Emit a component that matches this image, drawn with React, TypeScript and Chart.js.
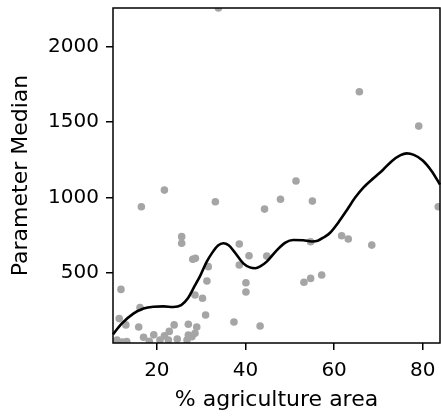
import React, { useEffect, useRef } from "react";
import { Chart, registerables } from "chart.js";

Chart.register(...registerables);

const pointX = [21.7, 16.5, 33.2, 44.3, 47.9, 25.6, 25.6, 28.1, 28.7, 31.6, 38.6, 40.8, 38.6, 44.8, 40.1, 40.1, 31.3, 30.3, 28.6, 11.9, 16.2, 11.5, 31.0, 37.4, 43.3, 13.0, 15.9, 23.9, 27.1, 29.0, 19.3, 17.0, 21.7, 22.8, 22.6, 27.1, 27.9, 28.6, 26.8, 11.0, 13.2, 20.7, 51.4, 55.1, 54.7, 61.7, 63.2, 68.5, 53.2, 54.7, 57.2, 83.5, 65.7, 79.1, 33.9, 12.2, 24.6, 18.3];
const pointY = [1048, 938, 971, 922, 987, 739, 695, 589, 595, 540, 690, 612, 551, 610, 433, 372, 445, 330, 352, 389, 268, 195, 219, 172, 146, 153, 139, 153, 157, 139, 87, 71, 80, 110, 53, 86, 75, 97, 53, 53, 42, 53, 1108, 975, 705, 745, 723, 683, 436, 462, 484, 938, 1701, 1473, 2257, 40, 60, 45];

const curveX = [10.1, 12, 14.7, 17, 19.2, 21.5, 23.7, 25.5, 27, 28.5, 29.8, 31.2, 32.4, 33.8, 35, 36.2, 37.5, 39.5, 41, 42.2, 43.5, 44.8, 47.1, 49, 50.8, 53, 55, 56.3, 57.7, 59.1, 61, 62.9, 64.8, 66.6, 69, 71, 73, 75, 76.4, 78, 80, 82, 83.9];
const curveY = [90, 160, 228, 262, 274, 276, 272, 285, 330, 410, 480, 570, 628, 680, 695, 682, 638, 562, 535, 529, 545, 573, 650, 700, 717, 715, 707, 712, 735, 765, 835, 916, 1000, 1065, 1130, 1182, 1240, 1280, 1292, 1282, 1245, 1175, 1085];

const xTicks = [20, 40, 60, 80];
const yTicks = [500, 1000, 1500, 2000];

const frame = {
  id: "frame",
  afterDraw(chart: any) {
    const { ctx, chartArea: a } = chart;
    ctx.save();
    ctx.strokeStyle = "#000";
    ctx.lineWidth = 1.5;
    ctx.strokeRect(a.left, a.top, a.right - a.left, a.bottom - a.top);
    ctx.restore();
  },
};

const W = 444;
const H = 419;

export default function App() {
  const ref = useRef<HTMLCanvasElement>(null);
  useEffect(() => {
    const tickFont = { family: "DejaVu Sans", size: 20 };
    const titleFont = { family: "DejaVu Sans", size: 22 };
    const chart = new Chart(ref.current!, {
      type: "scatter",
      data: {
        datasets: [
          {
            type: "line",
            data: curveX.map((x, i) => ({ x, y: curveY[i] })),
            borderColor: "#000",
            borderWidth: 2.6,
            pointRadius: 0,
            tension: 0.4,
            cubicInterpolationMode: "monotone",
            clip: 1,
            order: 0,
          } as any,
          {
            data: pointX.map((x, i) => ({ x, y: pointY[i] })),
            backgroundColor: "#a5a5a5",
            borderWidth: 0,
            pointRadius: 3.8,
            clip: 0,
            order: 1,
          } as any,
        ],
      },
      options: {
        animation: false,
        responsive: false,
        layout: { padding: { top: 8, right: 1, left: 0, bottom: 0 } },
        plugins: { legend: { display: false }, tooltip: { enabled: false } },
        scales: {
          x: {
            type: "linear",
            min: 10.1,
            max: 83.9,
            afterBuildTicks: (s: any) => { s.ticks = xTicks.map((v) => ({ value: v })); },
            afterFit: (s: any) => { s.height = 76; s.paddingLeft = 0; s.paddingRight = 0; },
            grid: { drawOnChartArea: false, drawTicks: true, tickLength: 7, color: "#000", lineWidth: 1.5 },
            border: { display: false },
            ticks: { color: "#000", font: tickFont, padding: 9, maxRotation: 0, callback: (v: any) => String(v) },
            title: { display: true, text: "% agriculture area", color: "#000", font: titleFont, padding: { top: 0, bottom: 6 } },
          },
          y: {
            type: "linear",
            min: 33,
            max: 2257,
            afterBuildTicks: (s: any) => { s.ticks = yTicks.map((v) => ({ value: v })); },
            afterFit: (s: any) => { s.width = 113; s.paddingTop = 0; s.paddingBottom = 0; },
            grid: { drawOnChartArea: false, drawTicks: true, tickLength: 7, color: "#000", lineWidth: 1.5 },
            border: { display: false },
            ticks: { color: "#000", font: tickFont, padding: 7, callback: (v: any) => String(v) },
            title: { display: true, text: "Parameter Median", color: "#000", font: titleFont, padding: { top: 8, bottom: 0 } },
          },
        },
      },
      plugins: [frame],
    });
    return () => chart.destroy();
  }, []);
  return (
    <div style={{ position: "fixed", left: 0, top: 0, width: 441, height: H, overflow: "hidden", background: "#fff" }}>
      <canvas ref={ref} width={W} height={H} style={{ width: W, height: H, display: "block" }} />
    </div>
  );
}
